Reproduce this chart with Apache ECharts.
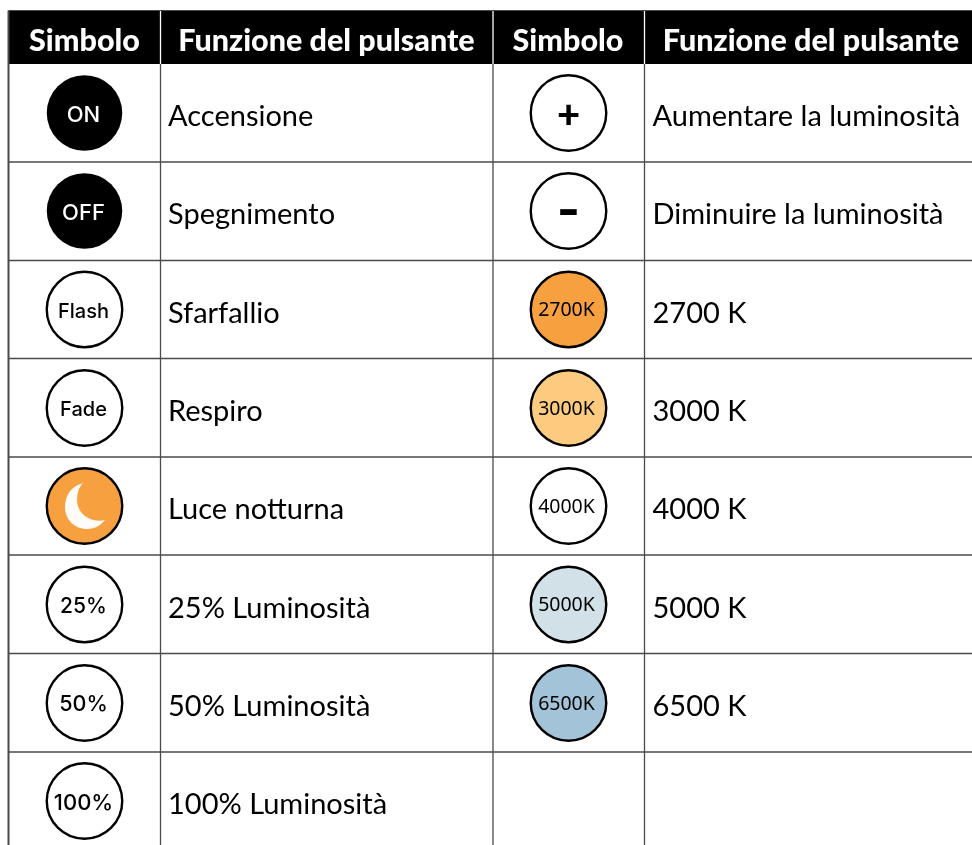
<!DOCTYPE html>
<html>
<head>
<meta charset="utf-8">
<style>
html,body{margin:0;padding:0;background:#fff;}
#main{width:972px;height:845px;}
</style>
</head>
<body>
<div id="main"></div>
<script src="https://cdn.jsdelivr.net/npm/echarts@6/dist/echarts.min.js"></script>
<script>
const headers = ['Simbolo', 'Funzione del pulsante', 'Simbolo', 'Funzione del pulsante'];
const leftSymbols = ['ON', 'OFF', 'Flash', 'Fade', '', '25%', '50%', '100%'];
const leftFunctions = ['Accensione', 'Spegnimento', 'Sfarfallio', 'Respiro', 'Luce notturna', '25% Luminosità', '50% Luminosità', '100% Luminosità'];
const leftFills = ['#000000', '#000000', '#ffffff', '#ffffff', '#f7a040', '#ffffff', '#ffffff', '#ffffff'];
const leftColors = ['#ffffff', '#ffffff', '#000000', '#000000', '#ffffff', '#000000', '#000000', '#000000'];
const leftSizes = [22, 22, 20, 20, 20, 21, 21.5, 22];
const rightSymbols = ['+', '-', '2700K', '3000K', '4000K', '5000K', '6500K'];
const rightFunctions = ['Aumentare la luminosità', 'Diminuire la luminosità', '2700 K', '3000 K', '4000 K', '5000 K', '6500 K'];
const rightFills = ['#ffffff', '#ffffff', '#f7a040', '#fdcb80', '#ffffff', '#d2e0e8', '#a2c3d8'];

// table layout, in pixels of the page
const colLines = [160.5, 493, 644.5];
const rowLines = [162, 260.5, 358.5, 457, 555, 653.5, 752];
const rowMid = [113, 211, 309.5, 408, 506, 604.5, 703, 801];
const symbolX = [84.5, 568.5];
const textX = [168, 652.5];
const FONT = 'Lato';
const MOON = 'path://M18 0C6 3 0 13 0 24C0 37 10 46 22 46C30 46 36 42 40 37C26 40 13 32 12 18C12 10 14 4 18 0Z';

const chart = echarts.init(document.getElementById('main'));

function lineItem(params, api) {
  const a = api.coord([api.value(0), api.value(1)]);
  const b = api.coord([api.value(2), api.value(3)]);
  return {
    type: 'line',
    shape: {x1: a[0], y1: a[1], x2: b[0], y2: b[1]},
    style: {stroke: api.value(4) ? '#ffffff' : '#4a4a4a', lineWidth: api.value(5)}
  };
}

function headBand(params, api) {
  const a = api.coord([9, 11]);
  const b = api.coord([972, 64]);
  return {type: 'rect', shape: {x: a[0], y: a[1], width: b[0] - a[0], height: b[1] - a[1]}, style: {fill: '#000'}};
}

const tableLines = [
  [8.5, 10.5, 8.5, 845, 0, 2],
  [8.5, 10.5, 972, 10.5, 0, 1]
];
colLines.forEach(x => {
  tableLines.push([x, 64, x, 845, 0, 1.3]);
  tableLines.push([x, 11, x, 64, 1, 1.3]);
});
rowLines.forEach(y => tableLines.push([9, y, 972, y, 0, 1.3]));

const buttons = [];
leftSymbols.forEach((s, i) => {
  const solid = leftFills[i] === '#000000';
  buttons.push({
    value: [symbolX[0], rowMid[i]], name: s,
    itemStyle: {color: leftFills[i], borderWidth: solid ? 0 : 2.4},
    label: {color: leftColors[i], fontSize: leftSizes[i], offset: [-1, 2]}
  });
});
rightSymbols.forEach((s, i) => {
  let label = {color: '#000', fontSize: 19.5, fontFamily: 'Noto Sans', fontWeight: 400, offset: [-2, 1]};
  if (s === '+') label = {color: '#000', fontSize: 40, fontWeight: 900, fontFamily: FONT, offset: [0, 2]};
  if (s === '-') label = {color: '#000', fontSize: 50, fontWeight: 700, fontFamily: 'Inter', offset: [0, 1]};
  buttons.push({
    value: [symbolX[1], rowMid[i]], name: s,
    itemStyle: {color: rightFills[i]},
    label: label
  });
});

const texts = [];
leftFunctions.forEach((t, i) => texts.push({value: [textX[0], rowMid[i] + 4], name: t}));
rightFunctions.forEach((t, i) => texts.push({value: [textX[1], rowMid[i] + 4], name: t}));

const headX = [84.5, 326.5, 568, 811];
const heads = headers.map((h, i) => ({value: [headX[i], 41], name: h}));

chart.setOption({
  animation: false,
  backgroundColor: '#fff',
  grid: {left: 0, right: 0, top: 0, bottom: 0},
  xAxis: {type: 'value', min: 0, max: 972, show: false},
  yAxis: {type: 'value', min: 0, max: 845, inverse: true, show: false},
  series: [
    {type: 'custom', silent: true, renderItem: headBand, data: [[0, 0]], z: 1},
    {type: 'custom', silent: true, renderItem: lineItem, data: tableLines, z: 2, clip: false},
    {
      type: 'scatter', silent: true, z: 3, data: heads, symbolSize: 0,
      itemStyle: {opacity: 1},
      label: {show: true, position: 'inside', formatter: '{b}', color: '#fff', fontFamily: FONT, fontWeight: 900, fontSize: 30.5}
    },
    {
      type: 'scatter', silent: true, z: 3, data: buttons, symbol: 'circle', symbolSize: 75.5,
      itemStyle: {borderColor: '#000', borderWidth: 2.4, opacity: 1},
      label: {show: true, position: 'inside', formatter: '{b}', fontFamily: 'Inter', fontWeight: 500}
    },
    {
      type: 'scatter', silent: true, z: 4, symbol: MOON, symbolSize: [40, 46],
      data: [[85, 506]], itemStyle: {color: '#fff', opacity: 0.96}
    },
    {
      type: 'scatter', silent: true, z: 3, data: texts, symbolSize: 0,
      itemStyle: {opacity: 1},
      label: {show: true, position: 'right', distance: 0, formatter: '{b}', color: '#000', fontFamily: FONT, fontSize: 29}
    }
  ]
});
</script>
</body>
</html>
